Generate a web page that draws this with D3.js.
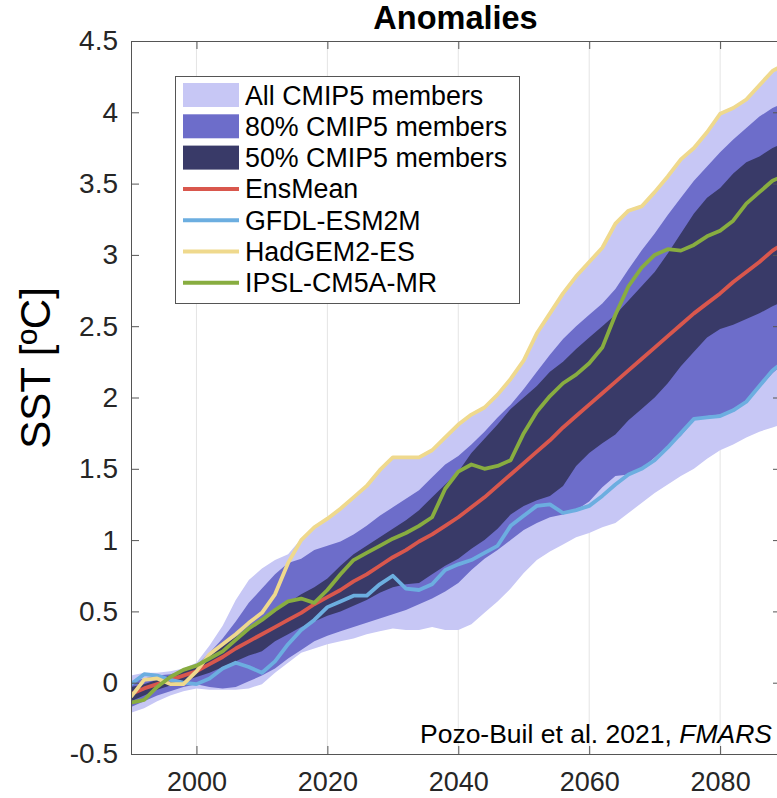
<!DOCTYPE html>
<html>
<head>
<meta charset="utf-8">
<script src="https://cdn.jsdelivr.net/npm/d3@7"></script>
<style>
  body { margin: 0; background: #fff; overflow: hidden; }
  svg { display: block; font-family: "Liberation Sans", Arial, Helvetica, sans-serif; }
</style>
</head>
<body>
<script>
// data, every 2 years
const years = [1990,1992,1994,1996,1998,2000,2002,2004,2006,2008,2010,2012,2014,2016,2018,2020,2022,2024,2026,2028,2030,2032,2034,2036,2038,2040,2042,2044,2046,2048,2050,2052,2054,2056,2058,2060,2062,2064,2066,2068,2070,2072,2074,2076,2078,2080,2082,2084,2086,2088,2090];

const allMax = [0.05,0.07,0.07,0.08,0.10,0.14,0.26,0.40,0.58,0.72,0.80,0.86,0.90,1.01,1.10,1.16,1.23,1.31,1.39,1.50,1.59,1.59,1.59,1.64,1.73,1.82,1.89,1.94,2.03,2.14,2.27,2.46,2.60,2.74,2.86,2.96,3.06,3.23,3.32,3.35,3.45,3.56,3.68,3.76,3.87,4.00,4.04,4.10,4.20,4.30,4.35];
const allMin = [-0.21,-0.18,-0.13,-0.09,-0.06,-0.04,-0.05,-0.05,-0.05,-0.04,-0.01,0.07,0.14,0.21,0.24,0.27,0.29,0.31,0.34,0.36,0.38,0.37,0.37,0.39,0.37,0.37,0.41,0.49,0.57,0.66,0.77,0.86,0.92,0.97,1.02,1.05,1.09,1.12,1.19,1.26,1.33,1.39,1.45,1.50,1.57,1.63,1.67,1.72,1.76,1.79,1.82];
const p80Hi = [0.01,0.03,0.05,0.06,0.08,0.12,0.21,0.31,0.43,0.56,0.66,0.76,0.84,0.87,0.93,0.96,0.99,1.04,1.10,1.17,1.23,1.29,1.35,1.44,1.53,1.59,1.67,1.76,1.86,1.95,2.06,2.18,2.30,2.41,2.50,2.58,2.66,2.76,2.90,3.03,3.15,3.28,3.40,3.52,3.62,3.72,3.81,3.89,3.97,4.03,4.07];
const p80Lo = [-0.17,-0.13,-0.09,-0.06,-0.03,-0.01,-0.03,-0.04,-0.03,0.01,0.05,0.10,0.17,0.23,0.29,0.33,0.36,0.39,0.42,0.45,0.48,0.51,0.55,0.59,0.64,0.70,0.79,0.87,0.93,1.00,1.07,1.12,1.16,1.18,1.21,1.27,1.37,1.45,1.46,1.50,1.58,1.66,1.73,1.84,1.87,1.88,1.91,1.98,2.07,2.17,2.25];
const p50Hi = [-0.03,-0.01,0.02,0.05,0.08,0.11,0.19,0.26,0.32,0.38,0.43,0.50,0.56,0.62,0.67,0.73,0.82,0.90,0.96,1.02,1.08,1.14,1.21,1.30,1.39,1.48,1.61,1.71,1.81,1.92,2.00,2.08,2.18,2.25,2.34,2.42,2.50,2.58,2.68,2.78,2.88,3.01,3.15,3.29,3.40,3.47,3.57,3.65,3.69,3.75,3.79];
const p50Lo = [-0.13,-0.09,-0.05,-0.02,0.01,0.04,0.07,0.11,0.15,0.19,0.22,0.29,0.34,0.39,0.43,0.47,0.50,0.54,0.58,0.63,0.67,0.69,0.70,0.76,0.82,0.87,0.94,1.00,1.08,1.18,1.24,1.28,1.31,1.38,1.52,1.61,1.68,1.74,1.84,1.92,2.00,2.10,2.22,2.32,2.42,2.48,2.51,2.55,2.59,2.64,2.68];

const ensMean = [-0.08,-0.04,-0.01,0.02,0.05,0.08,0.13,0.18,0.24,0.29,0.34,0.39,0.44,0.49,0.55,0.60,0.65,0.71,0.76,0.82,0.88,0.93,0.99,1.04,1.10,1.16,1.23,1.30,1.38,1.46,1.54,1.62,1.70,1.79,1.87,1.95,2.03,2.11,2.19,2.27,2.35,2.43,2.51,2.59,2.66,2.73,2.81,2.88,2.95,3.03,3.09];
const gfdl = [-0.01,0.06,0.05,0.02,0.00,-0.01,0.03,0.10,0.14,0.11,0.07,0.15,0.27,0.37,0.44,0.53,0.57,0.61,0.61,0.69,0.75,0.66,0.65,0.69,0.79,0.83,0.86,0.91,0.96,1.10,1.17,1.24,1.25,1.19,1.21,1.24,1.31,1.39,1.46,1.50,1.56,1.65,1.75,1.85,1.86,1.87,1.91,1.97,2.08,2.19,2.26];
const hadgem = [-0.10,0.02,0.03,-0.01,-0.01,0.08,0.20,0.27,0.34,0.42,0.49,0.62,0.84,1.00,1.09,1.15,1.22,1.30,1.38,1.49,1.58,1.58,1.58,1.63,1.72,1.81,1.88,1.93,2.02,2.13,2.26,2.45,2.59,2.73,2.85,2.95,3.05,3.22,3.31,3.34,3.44,3.55,3.67,3.75,3.86,3.99,4.03,4.09,4.19,4.29,4.34];
const ipsl = [-0.14,-0.12,-0.03,0.04,0.09,0.12,0.17,0.22,0.30,0.38,0.44,0.51,0.57,0.59,0.56,0.65,0.76,0.86,0.91,0.96,1.01,1.05,1.10,1.16,1.36,1.48,1.53,1.50,1.52,1.56,1.75,1.90,2.01,2.10,2.16,2.24,2.35,2.58,2.78,2.91,3.00,3.04,3.03,3.07,3.13,3.17,3.24,3.36,3.44,3.52,3.56];

const xTicks = [2000, 2020, 2040, 2060, 2080];
const yTicks = [-0.5, 0, 0.5, 1, 1.5, 2, 2.5, 3, 3.5, 4, 4.5];

const bandNames = ["All CMIP5 members", "80% CMIP5 members", "50% CMIP5 members"];
const lineNames = ["EnsMean", "GFDL-ESM2M", "HadGEM2-ES", "IPSL-CM5A-MR"];

const w = 777, h = 798;
const pL = 131, pR = 781, pT = 41, pB = 754;

const bandColors = ["#c7c7f5", "#6d6dca", "#393a68"];
const lineColors = ["#d9574d", "#6caee0", "#efd98d", "#88ad40"];
const axisColor = "#555";
const textColor = "#262626";

const svg = d3.select("body").append("svg")
  .attr("width", w)
  .attr("height", h);

const x = d3.scaleLinear().domain([1990, 2089.3]).range([pL, pR]);
const y = d3.scaleLinear().domain([-0.5, 4.5]).range([pB, pT]);

svg.append("defs").append("clipPath").attr("id", "plotclip")
  .append("rect")
  .attr("x", pL).attr("y", pT)
  .attr("width", pR - pL).attr("height", pB - pT);

// grid
svg.append("g").selectAll("line")
  .data(xTicks)
  .enter().append("line")
  .attr("x1", d => x(d)).attr("x2", d => x(d))
  .attr("y1", pT).attr("y2", pB)
  .attr("stroke", "#e4e4e4")
  .attr("stroke-width", 1);

const plot = svg.append("g").attr("clip-path", "url(#plotclip)");

const bands = [[allMin, allMax], [p80Lo, p80Hi], [p50Lo, p50Hi]];

bands.forEach((b, k) => {
  const area = d3.area()
    .x((d, i) => x(years[i]))
    .y0((d, i) => y(b[0][i]))
    .y1((d, i) => y(b[1][i]));
  plot.append("path")
    .datum(years)
    .attr("d", area)
    .attr("fill", bandColors[k]);
});

const series = [ensMean, gfdl, hadgem, ipsl];

series.forEach((s, k) => {
  const line = d3.line()
    .x((d, i) => x(years[i]))
    .y(d => y(d));
  plot.append("path")
    .datum(s)
    .attr("d", line)
    .attr("fill", "none")
    .attr("stroke", lineColors[k])
    .attr("stroke-width", 3.8)
    .attr("stroke-linejoin", "round");
});

// axes
const xAxis = d3.axisBottom(x)
  .tickValues(xTicks)
  .tickFormat(d3.format("d"))
  .tickSizeInner(-8)
  .tickSizeOuter(0)
  .tickPadding(18);

const gx = svg.append("g")
  .attr("transform", "translate(0," + pB + ")")
  .call(xAxis);

const yAxis = d3.axisLeft(y)
  .tickValues(yTicks)
  .tickFormat(d => d)
  .tickSizeInner(-8)
  .tickSizeOuter(0)
  .tickPadding(13);

const gy = svg.append("g")
  .attr("transform", "translate(" + pL + ",0)")
  .call(yAxis);

const gxTop = svg.append("g")
  .attr("transform", "translate(0," + pT + ")")
  .call(d3.axisTop(x).tickValues(xTicks).tickFormat("").tickSizeInner(-8).tickSizeOuter(0));

const gyRight = svg.append("g")
  .attr("transform", "translate(" + pR + ",0)")
  .call(d3.axisRight(y).tickValues(yTicks).tickFormat("").tickSizeInner(-8).tickSizeOuter(0));

[gx, gy, gxTop, gyRight].forEach(g => {
  g.selectAll("path").attr("stroke", axisColor);
  g.selectAll("line").attr("stroke", axisColor);
  g.selectAll("text")
    .attr("fill", textColor)
    .style("font-size", "28px")
    .style("font-family", "'Liberation Sans', Arial, Helvetica, sans-serif");
});
gx.selectAll("text").style("font-size", "27px");

// title + labels
svg.append("text")
  .attr("x", 455.5)
  .attr("y", 29)
  .attr("text-anchor", "middle")
  .attr("font-size", 32.5)
  .attr("font-weight", "bold")
  .attr("fill", "#000")
  .text("Anomalies");

svg.append("text")
  .attr("transform", "translate(50,368) rotate(-90)")
  .attr("text-anchor", "middle")
  .attr("font-size", 42)
  .attr("fill", "#000")
  .text("SST [ºC]");

const cite = svg.append("text")
  .attr("x", 772)
  .attr("y", 743)
  .attr("text-anchor", "end")
  .attr("font-size", 26.5)
  .attr("fill", "#000");
cite.append("tspan").text("Pozo-Buil et al. 2021, ");
cite.append("tspan").attr("font-style", "italic").text("FMARS");

// legend
const legend = svg.append("g");
legend.append("rect")
  .attr("x", 175.5).attr("y", 76.5)
  .attr("width", 344).attr("height", 227)
  .attr("fill", "#fff")
  .attr("stroke", axisColor)
  .attr("stroke-width", 1);

const rowY = i => 95 + i * 31.3;

bandNames.forEach((name, i) => {
  legend.append("rect")
    .attr("x", 183).attr("y", rowY(i) - 12)
    .attr("width", 56).attr("height", 24)
    .attr("fill", bandColors[i]);
  legend.append("text")
    .attr("x", 245).attr("y", rowY(i) + 9.5)
    .attr("font-size", 26.8).attr("fill", "#000")
    .text(name);
});

lineNames.forEach((name, j) => {
  const i = j + 3;
  legend.append("line")
    .attr("x1", 183).attr("x2", 239)
    .attr("y1", rowY(i)).attr("y2", rowY(i))
    .attr("stroke", lineColors[j])
    .attr("stroke-width", 4);
  legend.append("text")
    .attr("x", 245).attr("y", rowY(i) + 9.5)
    .attr("font-size", 26.8).attr("fill", "#000")
    .text(name);
});
</script>
</body>
</html>
